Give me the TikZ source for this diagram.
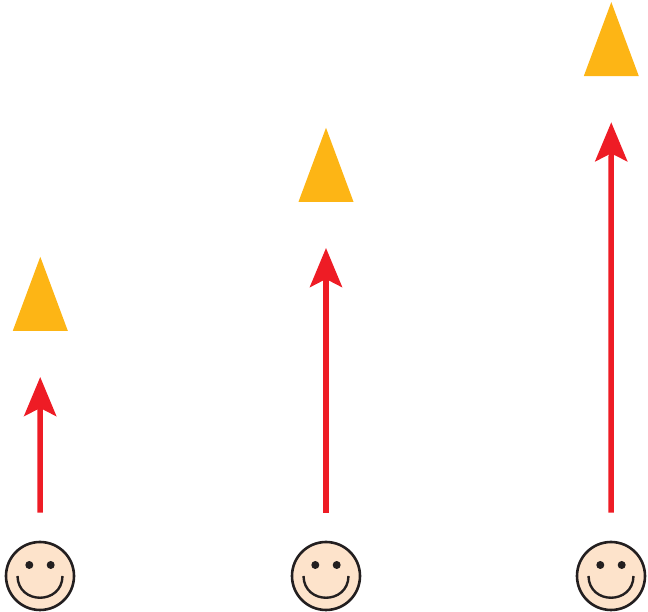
\documentclass[tikz,border=0pt]{standalone}
\usetikzlibrary{arrows.meta,positioning,shapes.geometric}
\definecolor{skin}{HTML}{FDE3CB}
\definecolor{ink}{HTML}{231F20}
\definecolor{cone}{HTML}{FDB515}
\definecolor{rayred}{HTML}{EE1C25}

\begin{document}
\begin{tikzpicture}[
  x=1pt, y=1pt,
  face/.style={circle, draw=ink, fill=skin, line width=2.6pt, minimum size=68pt, inner sep=0pt,
    path picture={
      \fill[ink] ([xshift=-10.7pt,yshift=11pt]path picture bounding box.center) circle (4pt);
      \fill[ink] ([xshift=10.7pt,yshift=11pt]path picture bounding box.center) circle (4pt);
      \draw[ink, line width=2.4pt] ([xshift=-22.5pt,yshift=0pt]path picture bounding box.center)
        .. controls ([xshift=-22pt,yshift=-29pt]path picture bounding box.center)
        and ([xshift=22pt,yshift=-29pt]path picture bounding box.center)
        .. ([xshift=22.5pt,yshift=0pt]path picture bounding box.center);
    }},
  object/.style={isosceles triangle, isosceles triangle stretches, shape border rotate=90,
    fill=cone, minimum width=55pt, minimum height=74pt, inner sep=0pt, anchor=lower side},
  ray/.style={-{Stealth[length=39pt,width=32pt,inset=8pt]}, draw=rayred, line width=5.5pt},
]
\useasboundingbox (0,0) rectangle (648,612);

% Observers
\node[face] (face1) at (40,36) {};
\node[face] (face2) at (326,36) {};
\node[face] (face3) at (611,36) {};

% Objects
\node[object] (obj1) at (40.3,281) {};
\node[object] (obj2) at (326,410) {};
\node[object] (obj3) at (611.3,535.7) {};

% Rays
\draw[ray, shorten <=28pt, shorten >=46pt] (face1) -- (obj1);
\draw[ray, shorten <=28pt, shorten >=46pt] (face2) -- (obj2);
\draw[ray, shorten <=28pt, shorten >=46pt] (face3) -- (obj3);

\end{tikzpicture}
\end{document}
